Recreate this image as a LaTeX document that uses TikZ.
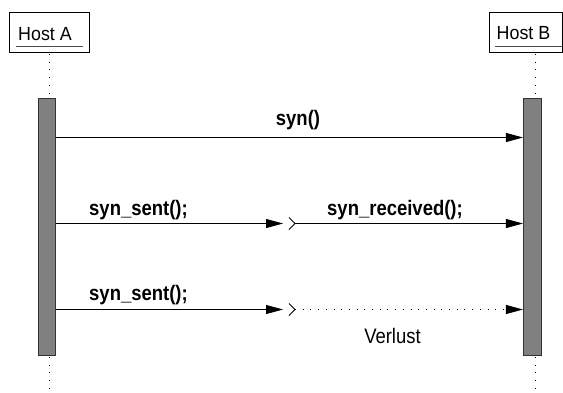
\documentclass[tikz,border=0pt]{standalone}
\usepackage{fontspec}
\setmainfont{Liberation Sans}
\newfontfamily\msgfont[FakeStretch=0.88]{Liberation Sans}
\newfontfamily\hostfont[FakeStretch=0.94]{Liberation Sans}
\usetikzlibrary{arrows.meta}
\begin{document}
\begin{tikzpicture}[x=1pt,y=-1pt,
  hostbox/.style={draw,line width=0.8pt,minimum width=80pt,minimum height=40pt,inner sep=0pt},
  hostname/.style={font=\hostfont\fontsize{19}{21}\selectfont,anchor=base,inner sep=0pt},
  underl/.style={draw=black!70,line width=1pt},
  lifeline/.style={line width=1pt,dash pattern=on 1pt off 6.7pt},
  actbar/.style={draw=black!80,fill=black!50,line width=0.8pt,minimum width=17pt,minimum height=257pt,inner sep=0pt},
  msg/.style={line width=0.8pt,-{Triangle[length=17pt,width=9pt]}},
  lost/.style={line width=0.8pt,dash pattern=on 1pt off 6.7pt,-{Triangle[length=17pt,width=9pt]}},
  chevron/.style={line width=0.8pt,line join=miter},
  msglabel/.style={font=\msgfont\fontsize{21}{23}\selectfont\bfseries,anchor=base,inner sep=0pt},
  note/.style={font=\msgfont\fontsize{21}{23}\selectfont,anchor=base,inner sep=0pt}]
\useasboundingbox (0,0) rectangle (563,392);

% host headers
\node[hostbox] (hostA) at (49,32) {};
\node[hostbox,minimum width=73pt] (hostB) at (525.5,32) {};
\node[hostname] (nameA) at (45,40) {Host A};
\node[hostname] (nameB) at (523.5,39.5) {Host B};
\coordinate (ulA1) at (16,46);  \coordinate (ulA2) at (83,46);
\coordinate (ulB1) at (495,46); \coordinate (ulB2) at (562,46);
\draw[underl] (ulA1) -- (ulA2);
\draw[underl] (ulB1) -- (ulB2);

% activation bars
\node[actbar] (barA) at (46.8,226.5) {};
\node[actbar,minimum width=17.7pt] (barB) at (532.2,226.5) {};

% lifelines
\coordinate (endA) at (49,392);
\coordinate (endB) at (535,392);
\draw[lifeline] (49,54) -- (49,97.5);
\draw[lifeline] (535,54) -- (535,97.5);
\draw[lifeline] (49,357) -- (endA);
\draw[lifeline] (535,357) -- (endB);

% message 1
\draw[msg] (barA.east |- 0,137.5) -- (barB.west |- 0,137.5);
\node[msglabel] (l1) at (298,125) {syn()};

% message 2: sent, then received
\coordinate (tipB) at (283,223.5);
\coordinate (restB) at (295,223.5);
\draw[msg] (barA.east |- tipB) -- (tipB);
\draw[chevron] (289,217.5) -- (restB) -- (289,229.5);
\draw[msg] (restB) -- (barB.west |- restB);
\node[msglabel] (l2) at (138.5,215) {syn\_sent();};
\node[msglabel] (l3) at (395,215) {syn\_received();};

% message 3: sent, then lost
\coordinate (tipC) at (283,309.5);
\coordinate (restC) at (295,309.5);
\draw[msg] (barA.east |- tipC) -- (tipC);
\draw[chevron] (289,303.5) -- (restC) -- (289,315.5);
\draw[lost] (restC) -- (barB.west |- restC);
\node[msglabel] (l4) at (138.5,300) {syn\_sent();};
\node[note] (l5) at (392.5,343) {Verlust};
\end{tikzpicture}
\end{document}
